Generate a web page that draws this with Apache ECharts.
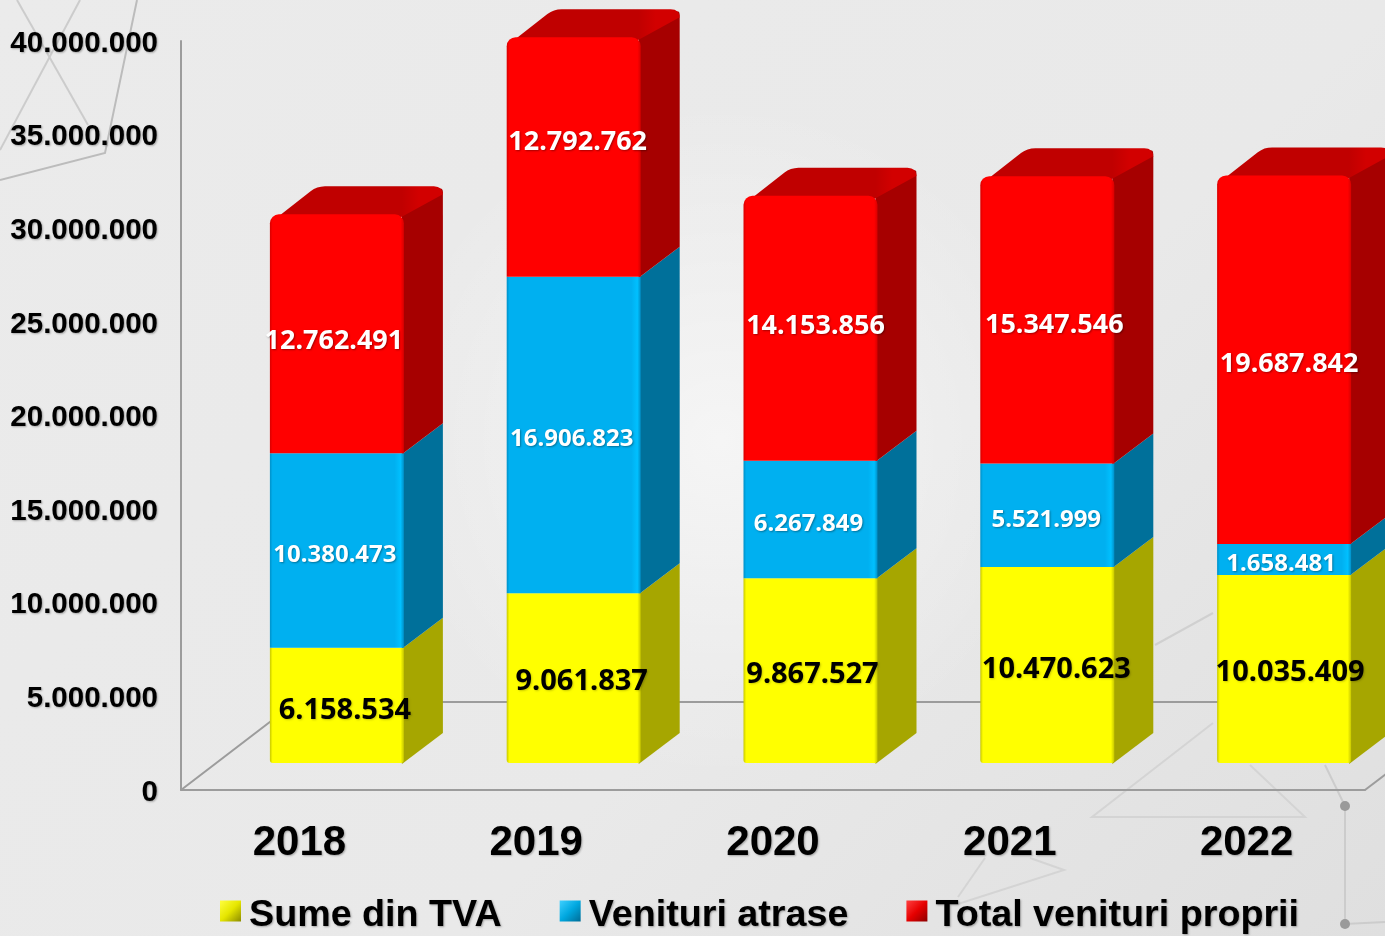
<!DOCTYPE html>
<html>
<head>
<meta charset="utf-8">
<style>
html,body{margin:0;padding:0;background:#e8e8e8}
#chart{width:1385px;height:936px;background:radial-gradient(circle at 52% 47%,rgba(255,255,255,.55) 0,rgba(255,255,255,0) 340px),linear-gradient(135deg,#ebebeb 0,#e9e9e9 60%,#dfdfdf 100%)}
</style>
<script src="https://cdn.jsdelivr.net/npm/echarts@6/dist/echarts.min.js"></script>
</head>
<body>
<div id="chart"></div>
<script>
const years = ['2018', '2019', '2020', '2021', '2022']
const sumeTva = [6158534, 9061837, 9867527, 10470623, 10035409]
const venituriAtrase = [10380473, 16906823, 6267849, 5521999, 1658481]
const venituriProprii = [12762491, 12792762, 14153856, 15347546, 19687842]
const yTicks = [0, 5000000, 10000000, 15000000, 20000000, 25000000, 30000000, 35000000, 40000000]

// hand placed labels in the original, px from the middle of the front face
const nudgeTva = [[8, 5], [8, 4], [2, 4], [9, 5], [6, 4]]
const nudgeAtrase = [[-2, 5], [-2, 4], [-2, 5], [-1, 5], [-3, 5]]
const nudgeProprii = [[-3, 7], [4, -15], [5, -2], [7, 5], [5, 5]]

const DX = 39, DY = 30, TOP_RISE = 28, SHIFT_X = 37.5, SHIFT_Y = 27, BAR_W = 134
const fmt = v => String(v).replace(/\B(?=(\d{3})+$)/g, '.')
const grad = (stops, x2 = 1, y2 = 0) => new echarts.graphic.LinearGradient(0, 0, x2, y2, stops.map(([offset, color]) => ({ offset, color })))

// rounds the corners of a polygon, r per corner
function roundPoly(pts, rs) {
  const out = []
  pts.forEach((p, i) => {
    const r = rs[i]
    if (!r) { out.push(p); return }
    const a = pts[(i + pts.length - 1) % pts.length], b = pts[(i + 1) % pts.length]
    const la = Math.hypot(a[0] - p[0], a[1] - p[1]), lb = Math.hypot(b[0] - p[0], b[1] - p[1])
    const s = [p[0] + (a[0] - p[0]) * r / la, p[1] + (a[1] - p[1]) * r / la]
    const e = [p[0] + (b[0] - p[0]) * r / lb, p[1] + (b[1] - p[1]) * r / lb]
    for (let t = 0; t <= 1; t += 0.25) {
      const u = 1 - t
      out.push([u * u * s[0] + 2 * u * t * p[0] + t * t * e[0], u * u * s[1] + 2 * u * t * p[1] + t * t * e[1]])
    }
  })
  return out
}

function stackSeries(name, values, below, nudge, colors, font, isTop) {
  return {
    name,
    type: 'custom',
    coordinateSystem: 'cartesian2d',
    itemStyle: { color: colors.front },
    data: values.map((v, i) => [i, below[i], below[i] + v, v]),
    encode: { x: 0, y: [1, 2] },
    z: 3,
    renderItem(params, api) {
      const i = api.value(0)
      const a = api.coord([i, api.value(1)])
      const b = api.coord([i, api.value(2)])
      const x0 = a[0] + SHIFT_X - BAR_W / 2, x1 = x0 + BAR_W
      const yb = a[1] - SHIFT_Y, yt = b[1] - SHIFT_Y
      const r = isTop ? 9 : 0
      const sideTop = isTop ? yt - TOP_RISE : yt - DY
      const kids = [
        {
          type: 'polygon', z2: 1,
          shape: { points: roundPoly([[x1 - 2, yb + 1], [x1 + DX, yb - DY], [x1 + DX, sideTop], [x1 - 2, yt + 1]], [0, 0, isTop ? 6 : 0, 0]) },
          style: { fill: grad([[0, colors.side], [0.9, colors.side], [1, colors.sideEdge]]) }
        },
        {
          type: 'rect', z2: 2,
          shape: { x: x0, y: yt, width: BAR_W, height: yb - yt, r: isTop ? [r, r, 0, 0] : (below[i] === 0 ? [0, 0, 3, 3] : 0) },
          style: { fill: grad([[0, colors.edge], [0.02, colors.front], [0.93, colors.front], [0.975, colors.bevel], [1, colors.edge]]) }
        }
      ]
      if (isTop) {
        kids.push({
          type: 'polygon', z2: 1,
          shape: { points: roundPoly([[x0 + 1, yt + 8], [x0 + DX + 8, yt - TOP_RISE], [x1 + DX, yt - TOP_RISE], [x1 + DX, yt - TOP_RISE + 8], [x1 - 3, yt + 3], [x0 + 8, yt + 3]], [3, 8, 9, 0, 0, 0]) },
          style: { fill: grad([[0, colors.top], [0.76, colors.top], [0.86, colors.topLight], [1, colors.topLight]]) }
        })
      }
      kids.push({
        type: 'text', z2: 10,
        x: (x0 + x1) / 2 + nudge[i][0],
        y: (yb + yt) / 2 + nudge[i][1],
        style: {
          text: fmt(api.value(3)), fill: colors.text,
          font: `bold ${font}px "Noto Sans"`, align: 'center', verticalAlign: 'middle',
          textShadowColor: colors.shadow, textShadowBlur: 2, textShadowOffsetX: 1, textShadowOffsetY: 1
        }
      })
      return { type: 'group', children: kids }
    }
  }
}

const floorSeries = {
  type: 'custom',
  coordinateSystem: 'cartesian2d',
  data: [[0, 0]],
  silent: true,
  z: 1,
  renderItem(params) {
    const c = params.coordSys
    const bottom = c.y + c.height, right = c.x + c.width
    const back = bottom - 88, depth = 115
    const line = { stroke: '#9c9c9c', lineWidth: 2, fill: null }
    return {
      type: 'group',
      children: [
        { type: 'polyline', shape: { points: [[c.x, bottom], [c.x + depth, back], [right + depth, back]] }, style: line },
        { type: 'polyline', shape: { points: [[right, bottom], [right + depth, back]] }, style: line }
      ]
    }
  }
}

const base1 = sumeTva
const base2 = sumeTva.map((v, i) => v + venituriAtrase[i])

const netLine = (points, color = '#d4d4d4', lineWidth = 2) => ({
  type: 'polyline', silent: true, z: 0,
  shape: { points }, style: { stroke: color, lineWidth, fill: null }
})
const netDot = (x, y) => ({ type: 'circle', silent: true, z: 0, shape: { cx: x, cy: y, r: 5 }, style: { fill: '#9a9a9a' } })

const legendIcon = (light, mid, dark) => ({
  color: new echarts.graphic.LinearGradient(0, 0, 1, 1, [
    { offset: 0, color: light }, { offset: 0.5, color: mid }, { offset: 1, color: dark }
  ])
})

const axisShadow = { textShadowColor: 'rgba(0,0,0,0.3)', textShadowBlur: 2, textShadowOffsetX: 1, textShadowOffsetY: 1 }
const boldArial = size => ({ fontFamily: '"Liberation Sans"', fontWeight: 'bold', fontSize: size, color: '#000', ...axisShadow })

const chart = echarts.init(document.getElementById('chart'), null, { renderer: 'canvas' })
chart.setOption({
  animation: false,
  grid: { left: 181, right: 20, top: 41, bottom: 146 },
  graphic: [
    netLine([[137, 0], [105, 153], [0, 180]], '#bcbcbc'),
    netLine([[17, 0], [88, 125]], '#cccccc'),
    netLine([[80, 0], [0, 150]], '#cccccc'),
    netLine([[1213, 613], [1155, 645]], '#d0d0d0'),
    netLine([[1213, 723], [1092, 817], [1305, 817], [1250, 765]]),
    netLine([[1325, 765], [1345, 806], [1345, 924], [1385, 922]], '#cccccc'),
    netLine([[985, 858], [958, 897]]),
    netLine([[1030, 858], [1064, 870], [958, 904]]),
    netDot(1345, 806),
    netDot(1345, 924)
  ],
  legend: {
    left: 215, top: 892, itemWidth: 21, itemHeight: 21, itemGap: 58, icon: 'rect',
    selectedMode: false,
    data: [
      { name: 'Sume din TVA', itemStyle: legendIcon('#ffff40', '#e6e600', '#8c8c00') },
      { name: 'Venituri atrase', itemStyle: legendIcon('#40d0ff', '#00a8e0', '#006c96') },
      { name: 'Total venituri proprii', itemStyle: legendIcon('#ff4040', '#e60000', '#8c0000') }
    ],
    formatter: name => `{t|${name}}`,
    textStyle: {
      ...boldArial(37.7),
      rich: { t: { ...boldArial(37.7), padding: [10, 0, 0, 3] } }
    }
  },
  xAxis: {
    type: 'category',
    data: years,
    axisLine: { show: true, lineStyle: { color: '#9c9c9c', width: 2 } },
    axisTick: { show: false },
    axisLabel: { margin: 32, ...boldArial(42) }
  },
  yAxis: {
    type: 'value',
    min: yTicks[0],
    max: yTicks[yTicks.length - 1],
    interval: yTicks[1] - yTicks[0],
    axisLine: { show: true, lineStyle: { color: '#9c9c9c', width: 2 } },
    axisTick: { show: false },
    splitLine: { show: false },
    axisLabel: {
      margin: 23, ...boldArial(29.5),
      formatter: v => `{t|${fmt(v)}}`,
      rich: { t: { ...boldArial(29.5), padding: [5, 0, 0, 0] } }
    }
  },
  series: [
    floorSeries,
    stackSeries('Sume din TVA', sumeTva, years.map(() => 0), nudgeTva, {
      front: '#ffff00', side: '#a6a600', sideEdge: '#a6a600', edge: '#c8c800', bevel: '#ffff00', text: '#000', shadow: 'rgba(0,0,0,0.2)'
    }, 29),
    stackSeries('Venituri atrase', venituriAtrase, base1, nudgeAtrase, {
      front: '#00b0f0', side: '#00709a', sideEdge: '#00709a', edge: '#0090c8', bevel: '#00c0ff', text: '#fff', shadow: 'rgba(0,0,0,0.35)'
    }, 24),
    stackSeries('Total venituri proprii', venituriProprii, base2, nudgeProprii, {
      front: '#ff0000', side: '#a60000', sideEdge: '#a60000', edge: '#d80000', bevel: '#ff0000', top: '#c00000', topLight: '#d20000', text: '#fff', shadow: 'rgba(0,0,0,0.35)'
    }, 27, true)
  ]
})
</script>
</body>
</html>
